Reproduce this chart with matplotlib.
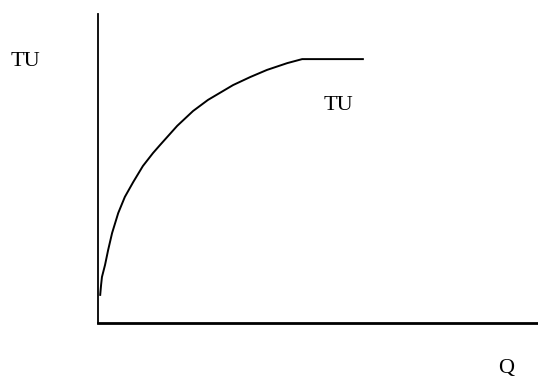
import matplotlib.pyplot as plt
import numpy as np

# total utility curve (Q in units, TU in units)
q = [0.05, 0.07, 0.09, 0.16, 0.23, 0.32, 0.46, 0.61, 0.80, 1.02, 1.25,
     1.41, 1.80, 2.16, 2.50, 3.07, 3.46, 3.84, 4.30, 4.64, 6.02]
tu = [0.91, 1.23, 1.49, 1.88, 2.36, 2.91, 3.56, 4.08, 4.56, 5.08, 5.50,
      5.76, 6.38, 6.86, 7.22, 7.70, 7.96, 8.19, 8.41, 8.54, 8.54]

W, H = 538, 380
fig = plt.figure(figsize=(W / 100, H / 100), dpi=100)
ax = fig.add_axes([98 / W, 57 / H, 440 / W, 309 / H])
ax.set_xlim(0, 10)
ax.set_ylim(0, 10)

ax.plot(q, tu, color="black", lw=1.4)

# only the left and bottom axis lines
for s in ["top", "right"]:
    ax.spines[s].set_visible(False)
ax.spines["left"].set_linewidth(1.3)
ax.spines["bottom"].set_linewidth(2)
ax.set_xticks([])
ax.set_yticks([])

font = dict(family="Liberation Serif", fontsize=16, color="black",
            ha="center", va="center")
fig.text(25 / W, 1 - 61 / H, "TU", **font)
fig.text(338 / W, 1 - 105 / H, "TU", **font)
fig.text(506 / W, 1 - 368 / H, "Q", **font)

fig.savefig("out.png", dpi=100)
